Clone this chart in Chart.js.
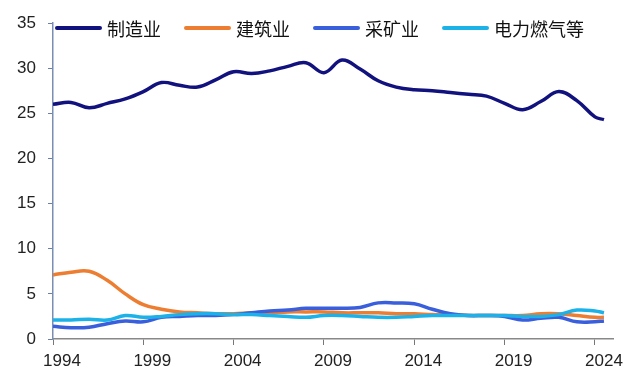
<!DOCTYPE html>
<html>
<head>
<meta charset="utf-8">
<script src="https://cdn.jsdelivr.net/npm/chart.js@4/dist/chart.umd.min.js"></script>
<style>
  html, body { margin: 0; padding: 0; background: #fff; }
</style>
</head>
<body>
<canvas id="myChart" width="640" height="384"></canvas>
<script>
// years (last point is mid-2024)
var years = [1994,1995,1996,1997,1998,1999,2000,2001,2002,2003,2004,2005,2006,2007,2008,2009,2010,2011,2012,2013,2014,2015,2016,2017,2018,2019,2020,2021,2022,2023,2024,2024.5];
var xTickYears = [1994,1999,2004,2009,2014,2019,2024];

var manufacturing = [26.0,26.2,25.6,26.1,26.6,27.4,28.4,28.1,27.9,28.7,29.6,29.4,29.7,30.2,30.6,29.5,30.9,29.9,28.6,27.9,27.6,27.5,27.3,27.1,26.9,26.1,25.4,26.3,27.4,26.4,24.6,24.3];
var construction  = [7.1,7.4,7.5,6.5,5.0,3.8,3.3,3.0,2.9,2.8,2.8,2.9,2.9,3.0,3.0,3.0,2.9,2.9,2.9,2.8,2.8,2.7,2.7,2.6,2.6,2.6,2.6,2.8,2.8,2.6,2.4,2.4];
var mining        = [1.4,1.25,1.3,1.7,2.0,1.9,2.4,2.5,2.6,2.6,2.7,2.9,3.1,3.2,3.4,3.4,3.4,3.5,4.0,4.0,3.9,3.3,2.8,2.6,2.6,2.5,2.1,2.3,2.4,1.9,1.9,2.0];
var power         = [2.1,2.1,2.2,2.1,2.6,2.4,2.5,2.7,2.8,2.8,2.7,2.7,2.6,2.5,2.4,2.6,2.6,2.5,2.4,2.4,2.5,2.6,2.6,2.6,2.6,2.6,2.5,2.5,2.7,3.2,3.1,2.9];

var names  = ['制造业','建筑业','采矿业','电力燃气等'];
var colors = ['#12127f','#ed7d31','#3a5fdc','#1cb2e8'];
var series = [manufacturing, construction, mining, power];

function toPoints(vals){
  return vals.map(function(v,i){ return {x: years[i], y: v}; });
}

// legend drawn inside the plot area, like the original
var lineLegend = {
  id: 'lineLegend',
  afterDraw: function(chart){
    var c = chart.ctx, area = chart.chartArea;
    var x = area.left + 2, y = area.top + 5;
    c.save();
    c.font = '18px "Noto Sans CJK SC"';
    c.textBaseline = 'middle';
    chart.data.datasets.forEach(function(ds){
      c.strokeStyle = ds.borderColor;
      c.lineWidth = 4;
      c.lineCap = 'round';
      c.beginPath();
      c.moveTo(x + 2, y);
      c.lineTo(x + 45, y);
      c.stroke();
      x += 52;
      c.fillStyle = '#111';
      c.fillText(ds.label, x, y + 1);
      x += c.measureText(ds.label).width + 23;
    });
    c.restore();
  }
};

var ctx = document.getElementById('myChart').getContext('2d');
var chart = new Chart(ctx, {
  type: 'line',
  data: {
    datasets: series.map(function(s, i){
      return {
        label: names[i],
        data: toPoints(s),
        borderColor: colors[i],
        backgroundColor: colors[i],
        borderWidth: 3.5,
        pointRadius: 0,
        tension: 0.4,
        fill: false,
        order: 3 - i
      };
    })
  },
  options: {
    responsive: false,
    animation: false,
    layout: { padding: { left: 0, right: 27, top: 23, bottom: 0 } },
    plugins: {
      legend: { display: false },
      tooltip: { enabled: false }
    },
    scales: {
      x: {
        type: 'linear',
        min: 1994,
        max: 2025,
        afterBuildTicks: function(scale){
          scale.ticks = xTickYears.map(function(v){ return {value: v}; });
        },
        afterFit: function(scale){ scale.height = 45; },
        grid: { drawOnChartArea: false, drawTicks: true, tickLength: 6, tickColor: '#777' },
        border: { display: true, color: '#888', width: 1.5 },
        ticks: {
          autoSkip: false,
          maxRotation: 0,
          labelOffset: 9,
          padding: 6,
          color: '#222',
          font: { family: 'Liberation Sans', size: 17 },
          callback: function(v){ return String(v); }
        }
      },
      y: {
        min: 0,
        max: 35,
        afterFit: function(scale){ scale.width = 53; },
        grid: { drawOnChartArea: false, drawTicks: true, tickLength: 5, tickColor: '#6a7fa8' },
        border: { display: true, color: '#7a8db5', width: 1.5 },
        ticks: {
          stepSize: 5,
          padding: 12,
          color: '#222',
          font: { family: 'Liberation Sans', size: 17 }
        }
      }
    }
  },
  plugins: [lineLegend]
});
</script>
</body>
</html>
